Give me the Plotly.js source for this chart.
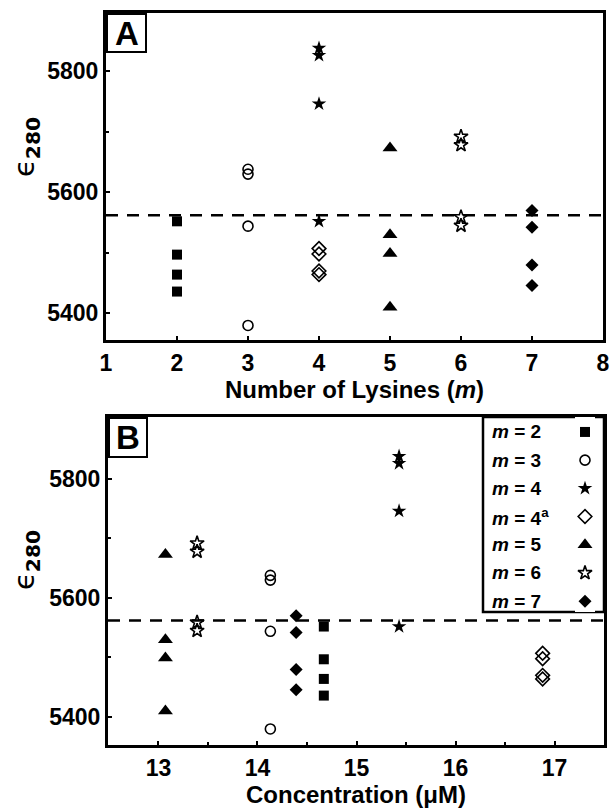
<!DOCTYPE html>
<html>
<head>
<meta charset="utf-8">
<script src="https://cdn.plot.ly/plotly-3.0.1.min.js"></script>
<style>
  html, body { margin: 0; padding: 0; background: #fff; }
  #chart { width: 613px; height: 809px; }
</style>
</head>
<body>
<div id="chart"></div>
<script>
// Series (number of lysines m) and their legend labels
const seriesLabels = ['<i>m</i> = 2', '<i>m</i> = 3', '<i>m</i> = 4', '<i>m</i> = 4<sup>a</sup>',
                      '<i>m</i> = 5', '<i>m</i> = 6', '<i>m</i> = 7'];
// Position of each series on panel A (number of lysines)
const lysineCount = [2, 3, 4, 4, 5, 6, 7];
// Position of each series on panel B (concentration, µM)
const concentration = [14.67, 14.13, 15.43, 16.88, 13.07, 13.39, 14.39];

// Extinction coefficients at 280 nm, replicate measurements per series
const eps_m2  = [5552, 5497, 5464, 5436];
const eps_m3  = [5638, 5630, 5544, 5380];
const eps_m4  = [5838, 5826, 5746, 5552];
const eps_m4a = [5507, 5498, 5470, 5464];
const eps_m5  = [5673, 5530, 5499, 5410];
const eps_m6  = [5692, 5678, 5559, 5545];
const eps_m7  = [5570, 5542, 5480, 5446];
const epsValues = [eps_m2, eps_m3, eps_m4, eps_m4a, eps_m5, eps_m6, eps_m7];

// Mean reference value drawn as the dashed line
const referenceEps = 5562;

// Axis ticks
const xTicksA = [1, 2, 3, 4, 5, 6, 7, 8];
const xTicksB = [13, 14, 15, 16, 17];
const yTicks = [5400, 5600, 5800];

// Marker look for each series
const symbols = ['square', 'circle-open', 'star', 'diamond-open', 'triangle-up', 'star-open', 'diamond'];
const sizes   = [10, 10, 11, 10.5, 13, 10.5, 10];

const W = 613, H = 809;
const px = v => v / W;
const py = v => 1 - v / H;

function markerFor(i) {
  return {
    symbol: symbols[i], size: sizes[i], color: 'black',
    line: { color: 'black', width: symbols[i].endsWith('open') ? 1.6 : 0 }
  };
}

const traces = [];
epsValues.forEach((vals, i) => {
  traces.push({
    type: 'scatter', mode: 'markers', xaxis: 'x', yaxis: 'y',
    x: vals.map(() => lysineCount[i]), y: vals,
    marker: markerFor(i), showlegend: false, cliponaxis: false
  });
  traces.push({
    type: 'scatter', mode: 'markers', xaxis: 'x2', yaxis: 'y2',
    x: vals.map(() => concentration[i]), y: vals,
    marker: markerFor(i), showlegend: false, cliponaxis: false
  });
  // symbol in the hand-built key of panel B
  traces.push({
    type: 'scatter', mode: 'markers', xaxis: 'x3', yaxis: 'y3',
    x: [0], y: [i], marker: markerFor(i), showlegend: false, hoverinfo: 'skip'
  });
});

const FAMILY = 'Liberation Sans, Arial, sans-serif';
const tickFont = { family: FAMILY, size: 23, color: 'black', weight: 'bold' };
const titleFont = { family: FAMILY, size: 24, color: 'black', weight: 'bold' };

const commonAxis = {
  showline: true, linecolor: 'black', linewidth: 3, mirror: true,
  ticks: 'inside', ticklen: 4, tickwidth: 2, tickcolor: 'black',
  showgrid: false, zeroline: false, tickfont: tickFont, automargin: false
};

const yAxisBase = Object.assign({}, commonAxis, {
  tickmode: 'array', tickvals: yTicks, ticktext: yTicks.map(String),
  minor: { dtick: 100, tick0: 5400, ticks: 'inside', ticklen: 3, tickwidth: 2, tickcolor: 'black' }
});

function centered(o) {
  return Object.assign({ showarrow: false, xanchor: 'center', yanchor: 'middle' }, o);
}

const layout = {
  width: W, height: H,
  margin: { l: 0, r: 0, t: 0, b: 0 },
  paper_bgcolor: 'white', plot_bgcolor: 'white',
  showlegend: false,
  xaxis: Object.assign({}, commonAxis, {
    domain: [px(106), px(603)], range: [1, 8],
    tickmode: 'array', tickvals: xTicksA, ticktext: xTicksA.map(String),
    anchor: 'y',
    title: { text: '<b>Number of Lysines (<i>m</i>)</b>', font: titleFont, standoff: 1 }
  }),
  yaxis: Object.assign({}, yAxisBase, {
    domain: [py(340), py(13)], range: [5356, 5896], anchor: 'x'
  }),
  xaxis2: Object.assign({}, commonAxis, {
    domain: [px(108), px(604)], range: [12.49, 17.5],
    tickmode: 'array', tickvals: xTicksB, ticktext: xTicksB.map(String),
    minor: { dtick: 0.5, tick0: 12.5, ticks: 'inside', ticklen: 3, tickwidth: 2, tickcolor: 'black' },
    anchor: 'y2',
    title: { text: '<b>Concentration (μM)</b>', font: titleFont, standoff: 3 }
  }),
  yaxis2: Object.assign({}, yAxisBase, {
    domain: [py(745), py(417)], range: [5353, 5904], anchor: 'x2'
  }),
  xaxis3: { domain: [px(575), px(595)], range: [-1, 1], visible: false, fixedrange: true, anchor: 'y3' },
  yaxis3: { domain: [py(612), py(417)], range: [6.385, -0.53], visible: false, fixedrange: true, anchor: 'x3' },
  shapes: [
    // dashed reference lines
    { type: 'line', xref: 'x domain', yref: 'y', x0: 0, x1: 1, y0: referenceEps, y1: referenceEps,
      line: { color: 'black', width: 2.5, dash: '12px,9px' } },
    { type: 'line', xref: 'x2 domain', yref: 'y2', x0: 0, x1: 1, y0: referenceEps, y1: referenceEps,
      line: { color: 'black', width: 2.5, dash: '12px,9px' } },
    // panel letter boxes
    { type: 'rect', xref: 'paper', yref: 'paper', x0: px(107), x1: px(146), y0: py(52), y1: py(14),
      line: { color: 'black', width: 2 }, fillcolor: 'white' },
    { type: 'rect', xref: 'paper', yref: 'paper', x0: px(109), x1: px(147), y0: py(457), y1: py(418),
      line: { color: 'black', width: 2 }, fillcolor: 'white' },
    // key box of panel B
    { type: 'rect', xref: 'paper', yref: 'paper', x0: px(483), x1: px(604), y0: py(612), y1: py(417),
      line: { color: 'black', width: 2.5 }, fillcolor: 'white', layer: 'below' }
  ],
  annotations: [
    centered({ text: '<b>A</b>', xref: 'paper', yref: 'paper', x: px(126.5), y: py(33),
      font: { family: FAMILY, size: 33, color: 'black' } }),
    centered({ text: '<b>B</b>', xref: 'paper', yref: 'paper', x: px(128), y: py(437.5),
      font: { family: FAMILY, size: 33, color: 'black' } }),
    centered({ text: 'ϵ<sub><b>280</b></sub>', xref: 'paper', yref: 'paper', x: px(26), y: py(147),
      textangle: -90, font: { family: 'DejaVu Sans, sans-serif', size: 29, color: 'black' } }),
    centered({ text: 'ϵ<sub><b>280</b></sub>', xref: 'paper', yref: 'paper', x: px(26), y: py(560),
      textangle: -90, font: { family: 'DejaVu Sans, sans-serif', size: 29, color: 'black' } })
  ].concat(seriesLabels.map((lab, i) => ({
    text: '<b>' + lab + '</b>', xref: 'paper', yref: 'y3', x: px(490), y: i,
    xanchor: 'left', yanchor: 'middle', showarrow: false,
    font: { family: FAMILY, size: 19, color: 'black' }
  })))
};

Plotly.newPlot('chart', traces, layout, { staticPlot: true, displayModeBar: false });
</script>
</body>
</html>
